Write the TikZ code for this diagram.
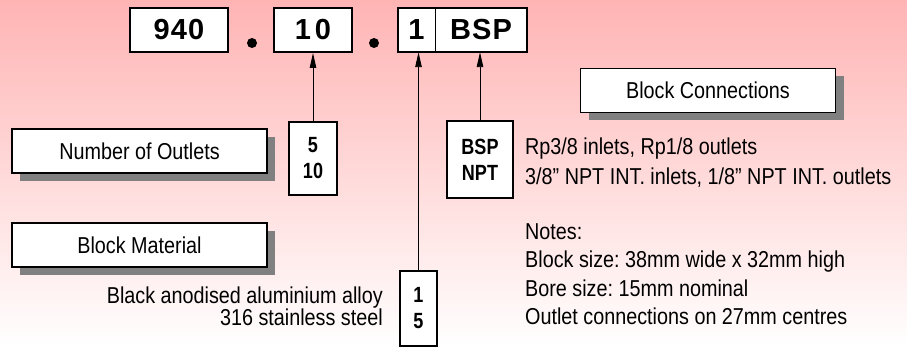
\documentclass[tikz,border=0pt]{standalone}
\usepackage{fontspec}
\setmainfont{Liberation Sans}
\newfontfamily\lab[FakeStretch=0.86]{Liberation Sans}
\newfontfamily\labb[FakeStretch=0.82]{Liberation Sans}
\newfontfamily\topf[LetterSpace=4]{Liberation Sans}
\usetikzlibrary{arrows.meta,shadows}
\definecolor{bgtop}{RGB}{255,180,180}
\definecolor{shgray}{RGB}{128,128,128}
\tikzset{
  lbox/.style={draw, line width=1.5pt, fill=white, minimum width=255pt, minimum height=44pt, inner sep=0pt,
    font=\lab\fontsize{23}{27}\selectfont,
    drop shadow={shadow xshift=8pt, shadow yshift=-8pt, fill=shgray, opacity=1}},
  topbox/.style={draw, line width=2pt, fill=white, minimum height=44pt, inner sep=0pt,
    font=\topf\bfseries\fontsize{29}{32}\selectfont},
  topcell/.style={fill=white, minimum height=44pt, inner sep=0pt,
    font=\topf\bfseries\fontsize{29}{32}\selectfont},
  sbox/.style={draw, line width=1.6pt, fill=white, inner sep=0pt, align=center,
    font=\labb\bfseries\fontsize{22}{26}\selectfont},
  txt/.style={inner sep=0pt, font=\lab\fontsize{23}{27}\selectfont},
  arr/.style={line width=0.9pt, -{Triangle[length=15pt,width=6.5pt]}},
  bigdot/.style={circle, fill=black, minimum size=10pt, inner sep=0pt}
}
\begin{document}
\frenchspacing
\begin{tikzpicture}[x=1pt,y=-1pt]
\useasboundingbox (0,0) rectangle (907,347);
\shade[top color=bgtop, bottom color=white] (0,0) rectangle (907,347);
% top code
\node[topbox, minimum width=98pt] (t940) at (179,30) {940};
\node[bigdot] (d1) at (252,43) {};
\node[topbox, minimum width=78pt] (t10) at (313,30) {1\kern4pt0};
\node[bigdot] (d2) at (374,43) {};
\node[topcell, minimum width=37pt] (t1) at (416.5,30) {1};
\node[topcell, minimum width=92pt] (tbsp) at (481,30) {BSP};
\draw[line width=2pt] (t1.north west) rectangle (tbsp.south east);
\draw[line width=1pt] (t1.north east) -- (t1.south east);
% label boxes
\node[lbox] (lout) at (139.5,151) {Number of Outlets};
\node[lbox] (lmat) at (139.5,245) {Block Material};
\node[lbox] (lcon) at (708,90.5) {Block Connections};
% option boxes
\node[sbox, minimum width=48pt, minimum height=73pt] (n5) at (313,158.5) {5\\10};
\node[sbox, minimum width=66pt, minimum height=77pt] (nbsp) at (480,159.5) {BSP\\NPT};
\node[sbox, minimum width=37pt, minimum height=75pt] (n1) at (418.5,308.5) {1\\5};
% arrows
\draw[arr] (n5.north) -- (n5.north |- t10.south);
\draw[arr] (nbsp.north) -- (nbsp.north |- tbsp.south);
\draw[arr] (n1.north) -- (n1.north |- t1.south);
% texts
\node[txt, anchor=base west] (c1) at (525,155) {Rp3/8 inlets, Rp1/8 outlets};
\node[txt, anchor=base west] (c2) at (525,185) {3/8” NPT INT. inlets, 1/8” NPT INT. outlets};
\node[txt, anchor=base east] (m1) at (383,303) {Black anodised aluminium alloy};
\node[txt, anchor=base east] (m2) at (383,325) {316 stainless steel};
\node[txt, anchor=base west] (no1) at (525,240) {Notes:};
\node[txt, anchor=base west] (no2) at (525,268) {Block size: 38mm wide x 32mm high};
\node[txt, anchor=base west] (no3) at (525,296) {Bore size: 15mm nominal};
\node[txt, anchor=base west] (no4) at (525,324) {Outlet connections on 27mm centres};
\end{tikzpicture}
\end{document}
